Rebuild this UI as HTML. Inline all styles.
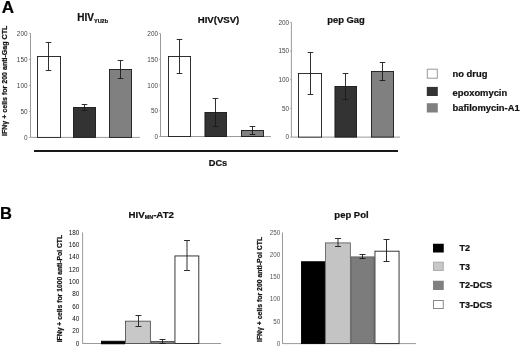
<!DOCTYPE html>
<html><head><meta charset="utf-8"><title>Figure</title>
<style>
html,body{margin:0;padding:0;background:#fff;}
body{width:520px;height:347px;overflow:hidden;font-family:"Liberation Sans",sans-serif;}
svg{display:block;font-family:"Liberation Sans",sans-serif;}
text[font-weight="bold"]{stroke:#111;stroke-width:0.22px;paint-order:stroke;}
</style></head><body>
<svg width="520" height="347" viewBox="0 0 520 347">
<defs><filter id="soft" x="0" y="0" width="520" height="347" filterUnits="userSpaceOnUse" color-interpolation-filters="sRGB"><feGaussianBlur stdDeviation="0.35"/></filter></defs>
<rect width="520" height="347" fill="#fff"/>
<g filter="url(#soft)">
<text x="1.7" y="13.3" font-size="17" font-weight="bold" fill="#000">A</text>
<text x="0" y="219" font-size="16.5" font-weight="bold" fill="#000">B</text>
<path d="M30.5 33.4V137.4H140" stroke="#808080" stroke-width="0.8" fill="none"/>
<path d="M29.0 137.4H30.5" stroke="#808080" stroke-width="0.6"/><path d="M29.0 111.4H30.5" stroke="#808080" stroke-width="0.6"/><path d="M29.0 85.4H30.5" stroke="#808080" stroke-width="0.6"/><path d="M29.0 59.400000000000006H30.5" stroke="#808080" stroke-width="0.6"/><path d="M29.0 33.400000000000006H30.5" stroke="#808080" stroke-width="0.6"/>
<text x="27.5" y="140.00" text-anchor="end" font-size="6.4" fill="#444">0</text><text x="27.5" y="114.00" text-anchor="end" font-size="6.4" fill="#444">50</text><text x="27.5" y="88.00" text-anchor="end" font-size="6.4" fill="#444">100</text><text x="27.5" y="62.00" text-anchor="end" font-size="6.4" fill="#444">150</text><text x="27.5" y="36.00" text-anchor="end" font-size="6.4" fill="#444">200</text>
<rect x="37.45" y="56.45" width="23.10" height="80.95" fill="#fff" stroke="#1a1a1a" stroke-width="0.9"/>
<path d="M48.50 42.50V70.50M45.70 42.50H51.30M45.70 70.50H51.30" stroke="#1a1a1a" stroke-width="0.9" fill="none"/>
<rect x="73.45" y="107.45" width="22.10" height="29.95" fill="#333" stroke="#1a1a1a" stroke-width="0.9"/>
<path d="M84.50 104.50V110.50M81.70 104.50H87.30M81.70 110.50H87.30" stroke="#1a1a1a" stroke-width="0.9" fill="none"/>
<rect x="109.45" y="69.45" width="22.10" height="67.95" fill="#808080" stroke="#1a1a1a" stroke-width="0.9"/>
<path d="M120.50 60.50V78.50M117.70 60.50H123.30M117.70 78.50H123.30" stroke="#1a1a1a" stroke-width="0.9" fill="none"/>
<text x="77.3" y="20.8" font-size="10" font-weight="bold" fill="#111">HIV<tspan font-size="5.5" dy="2.5">YU2b</tspan></text>
<text transform="translate(7.3,136) rotate(-90)" font-size="7.05" font-weight="bold" fill="#111">IFNγ + cells for 200 anti-Gag CTL</text>
<path d="M160.5 33.5V136.5H271" stroke="#808080" stroke-width="0.8" fill="none"/>
<path d="M159.0 136.5H160.5" stroke="#808080" stroke-width="0.6"/><path d="M159.0 110.75H160.5" stroke="#808080" stroke-width="0.6"/><path d="M159.0 85.0H160.5" stroke="#808080" stroke-width="0.6"/><path d="M159.0 59.25H160.5" stroke="#808080" stroke-width="0.6"/><path d="M159.0 33.5H160.5" stroke="#808080" stroke-width="0.6"/>
<text x="158" y="139.10" text-anchor="end" font-size="6.4" fill="#444">0</text><text x="158" y="113.35" text-anchor="end" font-size="6.4" fill="#444">50</text><text x="158" y="87.60" text-anchor="end" font-size="6.4" fill="#444">100</text><text x="158" y="61.85" text-anchor="end" font-size="6.4" fill="#444">150</text><text x="158" y="36.10" text-anchor="end" font-size="6.4" fill="#444">200</text>
<rect x="168.45" y="56.45" width="22.10" height="80.05" fill="#fff" stroke="#1a1a1a" stroke-width="0.9"/>
<path d="M179.50 39.50V73.50M176.70 39.50H182.30M176.70 73.50H182.30" stroke="#1a1a1a" stroke-width="0.9" fill="none"/>
<rect x="204.95" y="112.45" width="21.60" height="24.05" fill="#333" stroke="#1a1a1a" stroke-width="0.9"/>
<path d="M215.50 98.50V126.50M212.70 98.50H218.30M212.70 126.50H218.30" stroke="#1a1a1a" stroke-width="0.9" fill="none"/>
<rect x="241.45" y="130.45" width="22.10" height="6.05" fill="#808080" stroke="#1a1a1a" stroke-width="0.9"/>
<path d="M252.50 126.50V134.50M249.70 126.50H255.30M249.70 134.50H255.30" stroke="#1a1a1a" stroke-width="0.9" fill="none"/>
<text x="218.5" y="22.6" text-anchor="middle" font-size="9.6" font-weight="bold" fill="#111">HIV(VSV)</text>
<path d="M291.4 22.4V137.1H400" stroke="#808080" stroke-width="0.8" fill="none"/>
<path d="M289.9 137.1H291.4" stroke="#808080" stroke-width="0.6"/><path d="M289.9 108.425H291.4" stroke="#808080" stroke-width="0.6"/><path d="M289.9 79.75H291.4" stroke="#808080" stroke-width="0.6"/><path d="M289.9 51.075H291.4" stroke="#808080" stroke-width="0.6"/><path d="M289.9 22.400000000000006H291.4" stroke="#808080" stroke-width="0.6"/>
<text x="289.1" y="139.40" text-anchor="end" font-size="6.4" fill="#444">0</text><text x="289.1" y="110.73" text-anchor="end" font-size="6.4" fill="#444">50</text><text x="289.1" y="82.05" text-anchor="end" font-size="6.4" fill="#444">100</text><text x="289.1" y="53.38" text-anchor="end" font-size="6.4" fill="#444">150</text><text x="289.1" y="24.70" text-anchor="end" font-size="6.4" fill="#444">200</text>
<rect x="298.45" y="73.45" width="23.10" height="63.65" fill="#fff" stroke="#1a1a1a" stroke-width="0.9"/>
<path d="M310.50 52.50V94.50M307.70 52.50H313.30M307.70 94.50H313.30" stroke="#1a1a1a" stroke-width="0.9" fill="none"/>
<rect x="334.95" y="86.45" width="21.60" height="50.65" fill="#333" stroke="#1a1a1a" stroke-width="0.9"/>
<path d="M345.50 73.50V99.50M342.70 73.50H348.30M342.70 99.50H348.30" stroke="#1a1a1a" stroke-width="0.9" fill="none"/>
<rect x="371.45" y="71.45" width="22.10" height="65.65" fill="#808080" stroke="#1a1a1a" stroke-width="0.9"/>
<path d="M382.50 62.50V80.50M379.70 62.50H385.30M379.70 80.50H385.30" stroke="#1a1a1a" stroke-width="0.9" fill="none"/>
<text x="346" y="22.6" text-anchor="middle" font-size="9.4" font-weight="bold" fill="#111">pep Gag</text>
<rect x="34" y="150.1" width="364" height="1.8" fill="#000"/>
<text x="218" y="165.5" text-anchor="middle" font-size="9.2" font-weight="bold" fill="#111">DCs</text>
<rect x="427.3" y="69.2" width="10" height="9" fill="#fff" stroke="#999" stroke-width="1"/>
<rect x="426.8" y="86.9" width="11" height="9.1" fill="#333"/>
<rect x="426.8" y="103.2" width="11" height="9.3" fill="#808080"/>
<text x="452.5" y="77" font-size="9.4" font-weight="bold" fill="#111">no drug</text>
<text x="452.5" y="95.5" font-size="9.4" font-weight="bold" fill="#111">epoxomycin</text>
<text x="452.5" y="111.4" font-size="9.4" font-weight="bold" fill="#111">bafilomycin-A1</text>
<path d="M82.6 232.4V343.5H221" stroke="#808080" stroke-width="0.8" fill="none"/>
<text x="79.4" y="345.60" text-anchor="end" font-size="6.4" fill="#111">0</text><text x="79.4" y="333.26" text-anchor="end" font-size="6.4" fill="#111">20</text><text x="79.4" y="320.92" text-anchor="end" font-size="6.4" fill="#111">40</text><text x="79.4" y="308.57" text-anchor="end" font-size="6.4" fill="#111">60</text><text x="79.4" y="296.23" text-anchor="end" font-size="6.4" fill="#111">80</text><text x="79.4" y="283.88" text-anchor="end" font-size="6.4" fill="#111">100</text><text x="79.4" y="271.54" text-anchor="end" font-size="6.4" fill="#111">120</text><text x="79.4" y="259.19" text-anchor="end" font-size="6.4" fill="#111">140</text><text x="79.4" y="246.85" text-anchor="end" font-size="6.4" fill="#111">160</text><text x="79.4" y="234.50" text-anchor="end" font-size="6.4" fill="#111">180</text>
<rect x="101.45" y="341.25" width="23.10" height="2.55" fill="#000" stroke="#000" stroke-width="0.9"/>
<rect x="125.40" y="321.15" width="24.95" height="22.35" fill="#c8c8c8" stroke="#444" stroke-width="0.8"/>
<path d="M138.50 315.50V326.50M135.50 315.50H141.50M135.50 326.50H141.50" stroke="#1a1a1a" stroke-width="0.9" fill="none"/>
<rect x="151.15" y="341.40" width="22.95" height="2.10" fill="#808080" stroke="#444" stroke-width="0.8"/>
<path d="M162.50 339.50V343.50M159.50 339.50H165.50M159.50 343.50H165.50" stroke="#1a1a1a" stroke-width="0.9" fill="none"/>
<rect x="174.95" y="255.95" width="23.85" height="87.55" fill="#fff" stroke="#222" stroke-width="0.9"/>
<path d="M187.00 240.50V270.50M184.00 240.50H190.00M184.00 270.50H190.00" stroke="#1a1a1a" stroke-width="0.9" fill="none"/>
<text x="128.6" y="217.6" font-size="9.7" font-weight="bold" fill="#111">HIV<tspan font-size="5.4" dy="1.8">MN</tspan><tspan dy="-1.8">-AT2</tspan></text>
<text transform="translate(61.5,342.3) rotate(-90)" font-size="6.8" font-weight="bold" fill="#111">IFNγ + cells for 1000 anti-Pol CTL</text>
<path d="M282.5 232.6V343.6H416" stroke="#808080" stroke-width="0.8" fill="none"/>
<text x="280.3" y="345.87" text-anchor="end" font-size="6.3" fill="#555">0</text><text x="280.3" y="323.67" text-anchor="end" font-size="6.3" fill="#555">50</text><text x="280.3" y="301.47" text-anchor="end" font-size="6.3" fill="#555">100</text><text x="280.3" y="279.27" text-anchor="end" font-size="6.3" fill="#555">150</text><text x="280.3" y="257.07" text-anchor="end" font-size="6.3" fill="#555">200</text><text x="280.3" y="234.87" text-anchor="end" font-size="6.3" fill="#555">250</text>
<rect x="301.45" y="261.75" width="23.10" height="81.85" fill="#000" stroke="#000" stroke-width="0.9"/>
<rect x="325.40" y="242.90" width="24.95" height="100.70" fill="#c4c4c4" stroke="#555" stroke-width="0.8"/>
<path d="M338.00 238.50V246.50M335.00 238.50H341.00M335.00 246.50H341.00" stroke="#1a1a1a" stroke-width="0.9" fill="none"/>
<rect x="351.15" y="256.90" width="22.95" height="86.70" fill="#7c7c7c" stroke="#555" stroke-width="0.8"/>
<path d="M362.50 254.50V258.50M359.50 254.50H365.50M359.50 258.50H365.50" stroke="#1a1a1a" stroke-width="0.9" fill="none"/>
<rect x="374.95" y="251.20" width="24.10" height="92.40" fill="#fff" stroke="#222" stroke-width="0.9"/>
<path d="M386.50 239.50V261.50M383.50 239.50H389.50M383.50 261.50H389.50" stroke="#1a1a1a" stroke-width="0.9" fill="none"/>
<text x="351.5" y="217.5" text-anchor="middle" font-size="9.5" font-weight="bold" fill="#111">pep Pol</text>
<text transform="translate(261.6,342) rotate(-90)" font-size="6.9" font-weight="bold" fill="#111">IFNγ + cells for 200 anti-Pol CTL</text>
<rect x="433" y="243.75" width="10.75" height="8.75" fill="#000"/>
<rect x="433.5" y="262.2" width="9.75" height="8.2" fill="#c8c8c8" stroke="#aaa" stroke-width="1"/>
<rect x="433" y="280.75" width="10.75" height="9.25" fill="#808080"/>
<rect x="433.5" y="300.5" width="9.75" height="8" fill="#fff" stroke="#888" stroke-width="1"/>
<text x="459.5" y="251.20" font-size="9" font-weight="bold" fill="#111">T2</text>
<text x="459.5" y="269.95" font-size="9" font-weight="bold" fill="#111">T3</text>
<text x="459.5" y="288.20" font-size="9" font-weight="bold" fill="#111">T2-DCS</text>
<text x="459.5" y="307.70" font-size="9" font-weight="bold" fill="#111">T3-DCS</text>
</g>
</svg>
</body></html>
